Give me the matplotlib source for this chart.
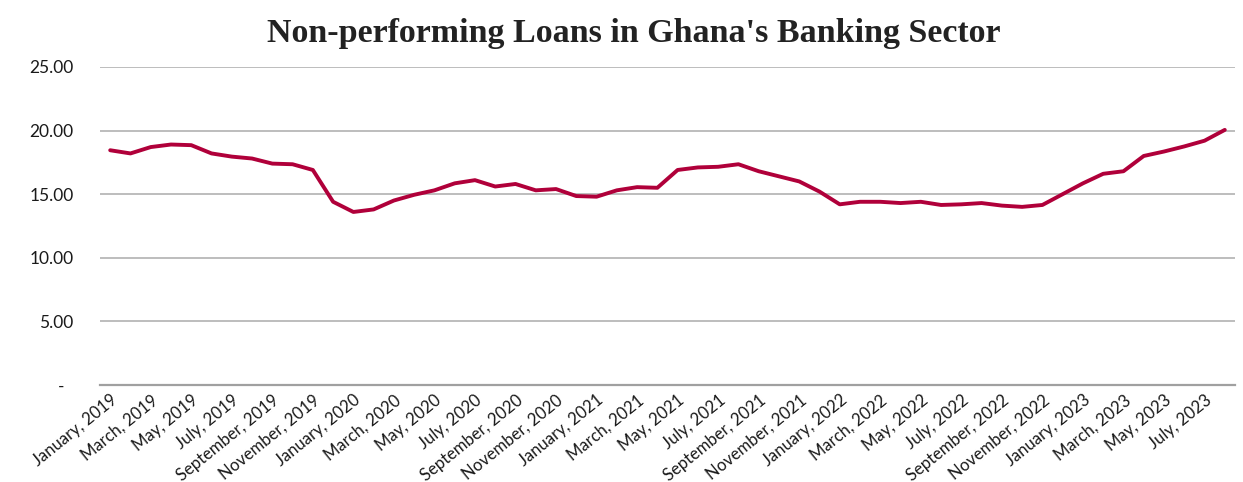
import numpy as np
import matplotlib
matplotlib.use("Agg")
import matplotlib.pyplot as plt

# -----------------------------
# Datos
# -----------------------------
month_names = ["January", "February", "March", "April", "May", "June", "July",
               "August", "September", "October", "November", "December"]
years = [2019, 2020, 2021, 2022, 2023]

npl_ratio = [
    18.45, 18.2, 18.7, 18.9, 18.85, 18.2, 17.95, 17.8, 17.4, 17.35, 16.9, 14.4,   # 2019
    13.6, 13.8, 14.5, 14.95, 15.3, 15.85, 16.1, 15.6, 15.8, 15.3, 15.4, 14.85,     # 2020
    14.8, 15.3, 15.55, 15.5, 16.9, 17.1, 17.15, 17.35, 16.8, 16.4, 16.0, 15.2,     # 2021
    14.2, 14.4, 14.4, 14.3, 14.4, 14.15, 14.2, 14.3, 14.1, 14.0, 14.15, 15.0,      # 2022
    15.85, 16.6, 16.8, 18.0, 18.35, 18.75, 19.2, 20.05,                            # 2023
]

categories = [f"{m}, {y}" for y in years for m in month_names][:len(npl_ratio)]
y_ticks = [0, 5, 10, 15, 20, 25]
y_labels = ["-  ", "5.00", "10.00", "15.00", "20.00", "25.00"]

# -----------------------------
# Figura
# -----------------------------
fig = plt.figure(figsize=(12.43, 4.82), dpi=100)
ax = fig.add_axes([0.0805, 0.2012, 0.913, 0.66])

x = np.arange(len(npl_ratio))
ax.plot(x, npl_ratio, color="#B0003A", linewidth=2.8,
        solid_joinstyle="round", solid_capstyle="round", zorder=3)

ax.set_xlim(-0.5, len(npl_ratio) - 0.5)
ax.set_ylim(0, 25)

ax.set_yticks(y_ticks)
ax.set_yticklabels(y_labels, fontsize=12.5, family="Lato", color="#1a1a1a")
ax.tick_params(axis="y", length=0, pad=19)

ax.set_xticks(x[::2])
ax.set_xticklabels(categories[::2], rotation=39, ha="right",
                   rotation_mode="anchor", fontsize=12,
                   family="Lato", color="#1a1a1a")
ax.tick_params(axis="x", length=0, pad=5)

ax.grid(axis="y", color="#B8B8B8", linewidth=1.3)
ax.set_axisbelow(True)
for side in ["top", "right", "left"]:
    ax.spines[side].set_visible(False)
ax.spines["bottom"].set_color("#A0A0A0")
ax.spines["bottom"].set_linewidth(1.6)

fig.text(0.51, 0.93, "Non-performing Loans in Ghana's Banking Sector",
         ha="center", va="center", fontsize=24.5, fontweight="bold",
         family="Liberation Serif", color="#222222")

plt.savefig("out.png", dpi=100)
plt.close()
